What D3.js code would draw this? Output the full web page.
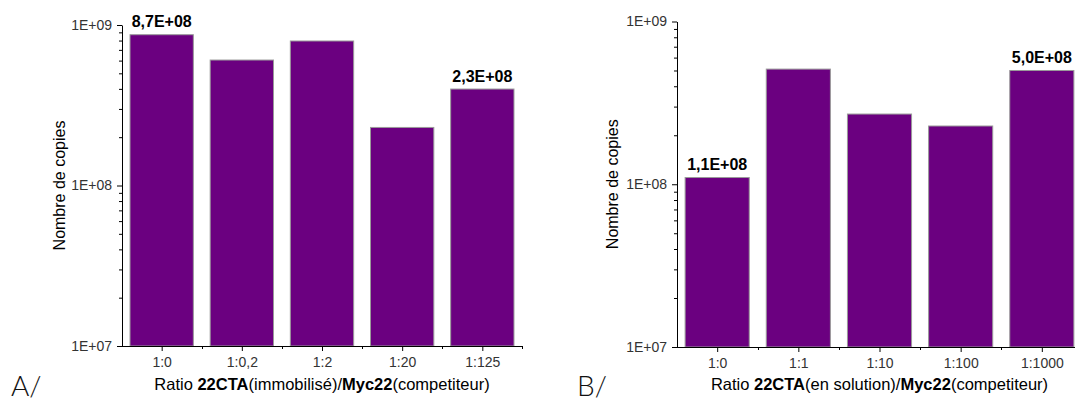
<!DOCTYPE html>
<html>
<head>
<meta charset="utf-8">
<script src="https://cdn.jsdelivr.net/npm/d3@7"></script>
<style>
  body { margin: 0; background: #fff; }
  svg { display: block; font-family: "Liberation Sans", Arial, sans-serif; }
  .domain { stroke: #000; }
  .tick line { stroke: #000; }
</style>
</head>
<body>
<svg id="chart" width="1075" height="398"></svg>
<script>
// données
const catsA = ["1:0", "1:0,2", "1:2", "1:20", "1:125"];
const valsA = [8.7e8, 6.05e8, 7.95e8, 2.3e8, 3.99e8];
const catsB = ["1:0", "1:1", "1:10", "1:100", "1:1000"];
const valsB = [1.1e8, 5.1e8, 2.7e8, 2.28e8, 5.0e8];

const yTicks = [1e7, 1e8, 1e9];
const yTickLabels = ["1E+07", "1E+08", "1E+09"];

// étiquettes au-dessus des barres (index de barre, texte)
const annotIdxA = [0, 4];
const annotTextA = ["8,7E+08", "2,3E+08"];
const annotIdxB = [0, 4];
const annotTextB = ["1,1E+08", "5,0E+08"];

const titleA = ["Ratio ", "22CTA", "(immobilisé)/", "Myc22", "(competiteur)"];
const titleB = ["Ratio ", "22CTA", "(en solution)/", "Myc22", "(competiteur)"];

const svg = d3.select("#chart");
const barColor = "#6b0080";
const FONT = "Liberation Sans, Arial, sans-serif";

function drawPanel(cfg) {
    const g = svg.append("g");

    const x = d3.scaleBand()
        .domain(cfg.cats)
        .range([cfg.x0, cfg.x1])
        .paddingInner(0.21)
        .paddingOuter(0.1);

    const y = d3.scaleLog()
        .domain([1e7, 1e9])
        .range([cfg.yBottom, cfg.yTop]);

    // barres
    g.append("g")
        .selectAll("rect")
        .data(cfg.vals)
        .join("rect")
        .attr("x", (d, i) => x(cfg.cats[i]))
        .attr("width", x.bandwidth())
        .attr("y", d => y(d))
        .attr("height", d => y(1e7) - y(d))
        .attr("fill", barColor)
        .attr("stroke", "#9a9a9a")
        .attr("stroke-width", 1);

    // axe Y : graduations mineures puis majeures
    const minor = [];
    for (let e = 7; e < 9; e++) {
        for (let m = 2; m <= 9; m++) minor.push(m * Math.pow(10, e));
    }

    g.append("g")
        .attr("transform", `translate(${cfg.x0},0)`)
        .call(d3.axisLeft(y).tickValues(minor).tickSize(3).tickFormat(""))
        .call(a => a.select(".domain").remove());

    g.append("g")
        .attr("transform", `translate(${cfg.x0},0)`)
        .call(d3.axisLeft(y)
            .tickValues(yTicks)
            .tickSize(5)
            .tickSizeOuter(0)
            .tickPadding(5)
            .tickFormat((d, i) => yTickLabels[i]))
        .call(a => a.selectAll("text")
            .attr("font-size", 14)
            .attr("fill", "#333")
            .attr("font-family", FONT));

    // axe X
    const edges = d3.scaleLinear().domain([0, cfg.cats.length]).range([cfg.x0, cfg.x1]);
    g.append("g")
        .attr("transform", `translate(0,${cfg.yBottom})`)
        .call(d3.axisBottom(edges).tickValues(d3.range(1, cfg.cats.length + 1)).tickSize(3).tickFormat(""))
        .call(a => a.select(".domain").remove());

    const xc = d3.scalePoint()
        .domain(cfg.cats)
        .range([x(cfg.cats[0]) + x.bandwidth() / 2, x(cfg.cats[cfg.cats.length - 1]) + x.bandwidth() / 2]);

    g.append("g")
        .attr("transform", `translate(0,${cfg.yBottom})`)
        .call(d3.axisBottom(xc).tickSize(5).tickSizeOuter(0).tickPadding(6))
        .call(a => a.select(".domain").attr("d", `M${cfg.x0},0.5H${cfg.x1}`))
        .call(a => a.selectAll("text")
            .attr("font-size", 14)
            .attr("fill", "#333")
            .attr("font-family", FONT));

    // valeurs au-dessus des barres
    g.append("g")
        .selectAll("text")
        .data(cfg.annotIdx)
        .join("text")
        .attr("x", i => x(cfg.cats[i]) + x.bandwidth() / 2)
        .attr("y", i => y(cfg.vals[i]) - 7.5)
        .attr("text-anchor", "middle")
        .attr("font-size", 16)
        .attr("font-weight", "bold")
        .attr("fill", "#000")
        .text((d, k) => cfg.annotText[k]);

    // titre axe Y
    g.append("text")
        .attr("transform", `translate(${cfg.yTitleX},${(cfg.yTop + cfg.yBottom) / 2}) rotate(-90)`)
        .attr("text-anchor", "middle")
        .attr("dy", "0.35em")
        .attr("font-size", 16)
        .attr("fill", "#000")
        .text("Nombre de copies");

    // titre axe X
    const t = g.append("text")
        .attr("x", (cfg.x0 + cfg.x1) / 2)
        .attr("y", 390)
        .attr("text-anchor", "middle")
        .attr("font-size", 16.5)
        .attr("fill", "#000");
    t.selectAll("tspan")
        .data(cfg.title)
        .join("tspan")
        .attr("font-weight", (d, i) => (i === 1 || i === 3) ? "bold" : "normal")
        .text(d => d);

    // lettre du panneau
    g.append("text")
        .attr("x", cfg.letterX)
        .attr("y", 396)
        .attr("font-size", 28)
        .attr("font-weight", 300)
        .attr("font-family", "Lato, 'Open Sans', sans-serif")
        .attr("fill", "#111")
        .text(cfg.letter);
}

drawPanel({
    cats: catsA, vals: valsA,
    annotIdx: annotIdxA, annotText: annotTextA,
    title: titleA,
    x0: 122, x1: 522, yTop: 25, yBottom: 346,
    yTitleX: 59, letter: "A/", letterX: 11
});

drawPanel({
    cats: catsB, vals: valsB,
    annotIdx: annotIdxB, annotText: annotTextB,
    title: titleB,
    x0: 677, x1: 1082, yTop: 21.5, yBottom: 347,
    yTitleX: 612, letter: "B/", letterX: 577
});
</script>
</body>
</html>
